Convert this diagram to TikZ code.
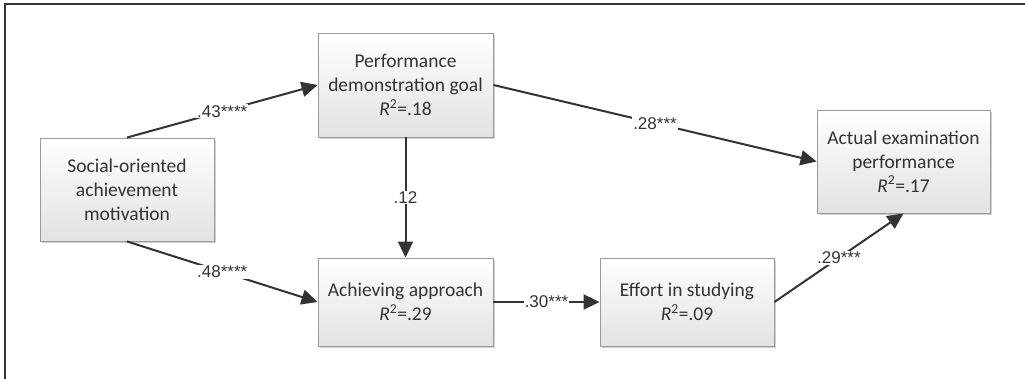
\documentclass[tikz,border=0pt]{standalone}
\usepackage{fontspec}
\setmainfont{Carlito}
\newfontfamily\labfont{Liberation Sans}
\usetikzlibrary{arrows.meta,shadows}
\definecolor{linec}{HTML}{333333}
\definecolor{boxedge}{HTML}{9A9A9A}
\definecolor{boxbot}{HTML}{E2E2E2}
\tikzset{
  varbox/.style={draw=boxedge, line width=0.9pt, top color=white, bottom color=boxbot,
    align=center, inner sep=2pt, text=linec, font=\fontsize{19.5}{24}\selectfont,
    drop shadow={shadow xshift=2pt, shadow yshift=-2pt, fill=black, opacity=0.18}},
  path/.style={draw=linec, line width=2pt, -{Triangle[length=16pt,width=15pt]}},
  coef/.style={fill=white, inner sep=1pt, font=\labfont\fontsize{17}{19}\selectfont, text=linec}
}
\newcommand{\rsq}[1]{{\itshape R}\textsuperscript{2}=.#1}
\begin{document}
\begin{tikzpicture}[x=1pt,y=-1pt]
\useasboundingbox (0,0) rectangle (1025,379);
\fill[white] (0,0) rectangle (1025,379);
\draw[draw=linec, line width=1.6pt] (5,379) -- (5,4) -- (1025,4);

\node[varbox, minimum width=174pt, minimum height=103pt] (soc) at (127,189.5) {Social-oriented\\achievement\\motivation};
\node[varbox, minimum width=175pt, minimum height=104pt] (perf) at (405.5,85) {Performance\\demonstration goal\\\rsq{18}};
\node[varbox, minimum width=175pt, minimum height=88pt] (ach) at (405.5,302) {Achieving approach\\\rsq{29}};
\node[varbox, minimum width=174pt, minimum height=88pt] (eff) at (687,302) {Effort in studying\\\rsq{09}};
\node[varbox, minimum width=173pt, minimum height=103pt] (act) at (903.5,161.5) {Actual examination\\performance\\\rsq{17}};

\draw[path] (soc.north) -- node[coef] {.43****} (perf.west);
\draw[path] (soc.south) -- node[coef] {.48****} (ach.west);
\draw[path] (perf.south) -- node[coef] {.12} (ach.north);
\draw[path] (perf.east) -- node[coef] {.28***} (act.west);
\draw[path] (ach.east) -- node[coef] {.30***} (eff.west);
\draw[path] (eff.east) -- node[coef] {.29***} (act.south);
\end{tikzpicture}
\end{document}
